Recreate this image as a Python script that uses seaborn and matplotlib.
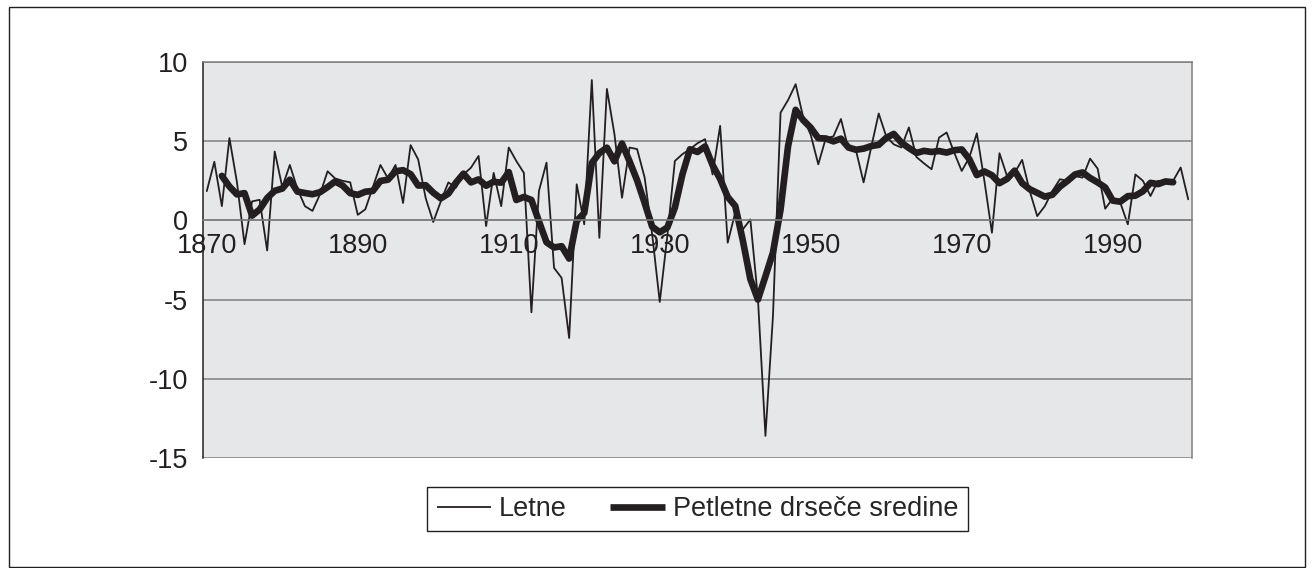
import numpy as np
import pandas as pd
import seaborn as sns
import matplotlib
matplotlib.use('Agg')
import matplotlib.pyplot as plt
from matplotlib.patches import Rectangle

# Annual values (Letne), 1870-2000
years = list(range(1870, 2001))
letne = [
    1.85, 3.7, 0.9, 5.2, 2.4, -1.5, 1.2, 1.3, -1.9, 4.35,
    2.1, 3.5, 2.0, 0.9, 0.6, 1.65, 3.1, 2.65, 2.5, 2.4,
    0.35, 0.7, 2.1, 3.5, 2.65, 3.5, 1.1, 4.75, 3.85, 1.4,
    -0.1, 1.2, 2.4, 2.07, 2.9, 3.33, 4.07, -0.36, 3.0, 0.9,
    4.6, 3.75, 3.0, -5.8, 1.86, 3.65, -3.0, -3.63, -7.43, 2.28,
    -0.25, 8.86, -1.1, 8.3, 5.44, 1.43, 4.6, 4.5, 2.7, -0.9,
    -5.15, -1.0, 3.75, 4.18, 4.5, 4.87, 5.13, 2.9, 5.97, -1.41,
    0.5, -0.57, 0.06, -4.9, -13.6, -6.0, 6.8, 7.6, 8.6, 6.5,
    5.4, 3.54, 5.2, 5.3, 6.4, 4.5, 4.4, 2.4, 4.6, 6.75,
    5.3, 4.8, 4.6, 5.87, 4.0, 3.6, 3.23, 5.23, 5.55, 4.28,
    3.12, 3.97, 5.5, 2.5, -0.78, 4.24, 2.8, 3.0, 3.82, 1.86,
    0.27, 0.9, 1.85, 2.6, 2.5, 2.8, 2.7, 3.9, 3.27, 0.74,
    1.37, 1.12, -0.25, 2.9, 2.5, 1.54, 2.5, 2.4, 2.5, 3.34,
    1.33,
]

# Five-year moving averages (Petletne drseče sredine), 1872-1998
ma_years = list(range(1872, 1999))
petletne = [
    2.81, 2.14, 1.64, 1.72, 0.30, 0.69, 1.41, 1.87,
    2.01, 2.57, 1.82, 1.73, 1.65, 1.78, 2.10, 2.46, 2.20, 1.72,
    1.61, 1.81, 1.86, 2.49, 2.57, 3.10, 3.17, 2.92, 2.20, 2.22,
    1.75, 1.39, 1.69, 2.38, 2.95, 2.40, 2.59, 2.19, 2.44, 2.38,
    3.05, 1.29, 1.48, 1.29, -0.06, -1.38, -1.71, -1.63, -2.41, -0.03,
    0.47, 3.62, 4.25, 4.59, 3.73, 4.85, 3.73, 2.53, 1.10, -0.40,
    -0.75, -0.45, 0.80, 2.90, 4.49, 4.32, 4.67, 3.49, 2.62, 1.48,
    0.91, -1.26, -3.70, -5.00, -3.53, -2.02, 0.68, 4.70, 6.98, 6.33,
    5.85, 5.19, 5.17, 4.99, 5.16, 4.60, 4.46, 4.53, 4.69, 4.77,
    5.21, 5.46, 4.91, 4.57, 4.26, 4.39, 4.32, 4.38, 4.28, 4.43,
    4.48, 3.87, 2.86, 3.09, 2.85, 2.35, 2.62, 3.14, 2.35, 1.97,
    1.74, 1.50, 1.62, 2.13, 2.49, 2.90, 3.03, 2.68, 2.40, 2.08,
    1.25, 1.18, 1.53, 1.56, 1.84, 2.37, 2.29, 2.46, 2.41,
]

label_years = [1870, 1890, 1910, 1930, 1950, 1970, 1990]
y_ticks = [-15, -10, -5, 0, 5, 10]

INK = '#231F20'
GRID = '#7F7F7F'
FS = 19.5

sns.set_style('white')
plt.rcParams['font.family'] = ['Liberation Sans', 'DejaVu Sans']

fig = plt.figure(figsize=(13.13, 5.68), dpi=100)
ax = fig.add_axes([203 / 1313, 1 - 458 / 568, (1192 - 203) / 1313, (458 - 62) / 568])
ax.set_facecolor('#E6E7E8')

sns.lineplot(x=years, y=letne, color=INK, lw=1.3, ax=ax, label='Letne')
sns.lineplot(x=ma_years, y=petletne, color=INK, lw=4.8, ax=ax,
             label='Petletne drseče sredine')

ax.set_xlim(1869.5, 2000.5)
ax.set_ylim(-15, 10)
ax.set_yticks(y_ticks)
ax.set_yticklabels([str(v) for v in y_ticks])
ax.yaxis.grid(True, color=GRID, lw=1.1)
ax.set_axisbelow(True)

# category axis: labels every 20 years, tick marks every 10 category boundaries
ax.set_xticks(label_years)
ax.set_xticklabels([str(y) for y in label_years])
ax.set_xticks(np.arange(1879.5, 2000, 10), minor=True)
ax.tick_params(axis='x', which='major', length=0, pad=9, labelsize=FS, colors=INK)
ax.tick_params(axis='x', which='minor', length=6, width=1, color=GRID, direction='out')
ax.tick_params(axis='y', length=5, width=1, color=INK, pad=6, labelsize=FS, labelcolor=INK)
ax.set_xlabel('')
ax.set_ylabel('')

ax.spines['bottom'].set_position(('data', 0))
ax.spines['bottom'].set_color(GRID)
ax.spines['top'].set_color(GRID)
ax.spines['right'].set_color(GRID)
ax.spines['left'].set_color(INK)
for s in ax.spines.values():
    s.set_linewidth(1.1)

leg = ax.legend(loc='center', bbox_to_anchor=(697.5 / 1313, 1 - 509 / 568),
                bbox_transform=fig.transFigure, ncol=2, frameon=True, fancybox=False,
                edgecolor=INK, framealpha=1, fontsize=FS, handlelength=2.0,
                columnspacing=1.6, handletextpad=0.3, borderpad=0.35,
                borderaxespad=0.0)
leg.get_frame().set_linewidth(1.0)
for h in leg.get_lines():
    h.set_solid_capstyle('butt')

# outer chart frame
fig.patches.append(Rectangle((9 / 1313, 1 / 568), (1305 - 9) / 1313, (561 - 1) / 568,
                             transform=fig.transFigure, fill=False,
                             edgecolor=INK, lw=1.0))

fig.savefig('out.png', dpi=100)
